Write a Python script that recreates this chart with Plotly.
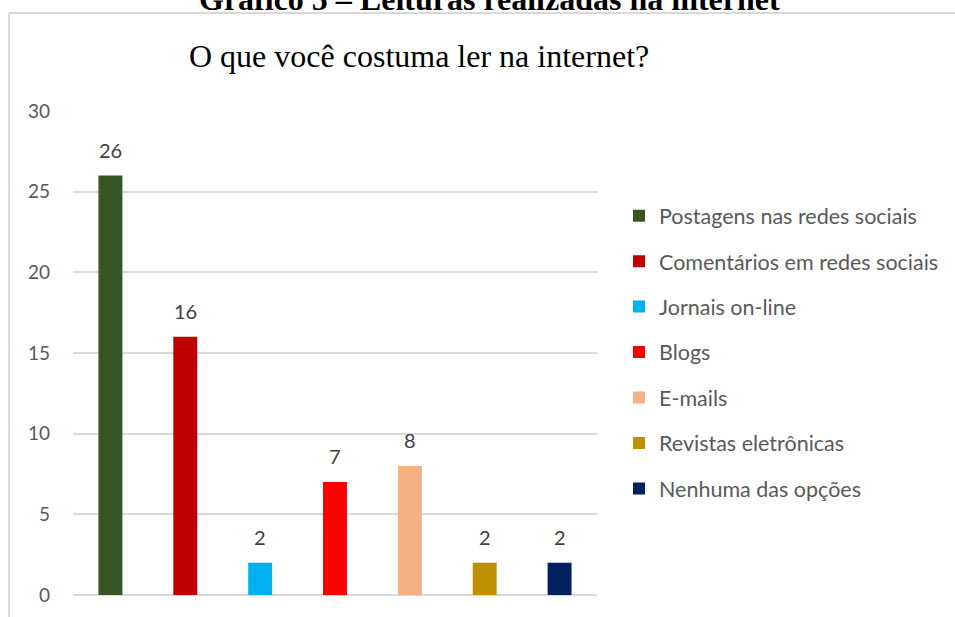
import plotly.graph_objects as go

categories = ["Postagens nas redes sociais", "Comentários em redes sociais", "Jornais on-line",
              "Blogs", "E-mails", "Revistas eletrônicas", "Nenhuma das opções"]
values = [26, 16, 2, 7, 8, 2, 2]
colors = ["#375623", "#C00000", "#00B0F0", "#FF0000", "#F4B183", "#BF9000", "#002060"]
y_ticks = [0, 5, 10, 15, 20, 25, 30]

W, H = 955, 617
ml, mr, mt, mb = 73, 357, 111, 22
SANS = "Lato, Open Sans, sans-serif"

fig = go.Figure()
for i, (c, v, col) in enumerate(zip(categories, values, colors)):
    fig.add_trace(go.Bar(
        x=[i], y=[v], name=c, marker=dict(color=col, line=dict(width=0)),
        width=0.32, legendgroup=str(i),
    ))
    fig.add_annotation(x=i, y=v, xref="x", yref="y", text=str(v), showarrow=False,
                       yanchor="bottom", yshift=12,
                       font=dict(family=SANS, size=20, color="#404040"))

fig.update_layout(
    width=W, height=H,
    margin=dict(l=ml, r=mr, t=mt, b=mb),
    paper_bgcolor="white", plot_bgcolor="white",
    barmode="overlay",
    showlegend=True,
    legend=dict(x=1.04, y=0.826, xanchor="left", yanchor="top",
                font=dict(family=SANS, size=21.5, color="#595959"),
                tracegroupgap=14.5, itemclick=False, bgcolor="rgba(0,0,0,0)"),
    xaxis=dict(range=[-0.5, 6.5], showticklabels=False, showgrid=False, zeroline=False,
               showline=False, fixedrange=True),
    yaxis=dict(range=[0, 30], tickvals=y_ticks, ticktext=[str(t) for t in y_ticks],
               showgrid=True, gridcolor="#D9D9D9", gridwidth=1.5, zeroline=True,
               zerolinecolor="#D9D9D9", zerolinewidth=1.5, showline=False,
               tickfont=dict(family=SANS, size=19, color="#595959"),
               ticks="", ticklabelstandoff=22),
    font=dict(family=SANS),
)

def px_x(x):
    return (x - ml) / (W - ml - mr)

def px_y(y):
    return 1 - (y - mt) / (H - mt - mb)

# outer frame (top and left edges visible)
fig.add_shape(type="line", xref="paper", yref="paper", x0=px_x(9), x1=px_x(960),
              y0=px_y(13), y1=px_y(13), line=dict(color="#D9D9D9", width=2))
fig.add_shape(type="line", xref="paper", yref="paper", x0=px_x(9), x1=px_x(9),
              y0=px_y(13), y1=px_y(625), line=dict(color="#D9D9D9", width=2))

# cropped document caption
fig.add_annotation(text="<b>Gráfico 5 – Leituras realizadas na internet</b>",
                   xref="paper", yref="paper", x=px_x(490), y=px_y(19),
                   xanchor="center", yanchor="bottom", showarrow=False,
                   font=dict(family="Liberation Serif, Times New Roman, serif", size=32, color="black"))

# chart title
fig.add_annotation(text="O que você costuma ler na internet?",
                   xref="paper", yref="paper", x=px_x(420), y=px_y(56),
                   xanchor="center", yanchor="middle", showarrow=False,
                   font=dict(family="Liberation Serif, Times New Roman, serif", size=32, color="black"))

fig.write_html("out.html")
